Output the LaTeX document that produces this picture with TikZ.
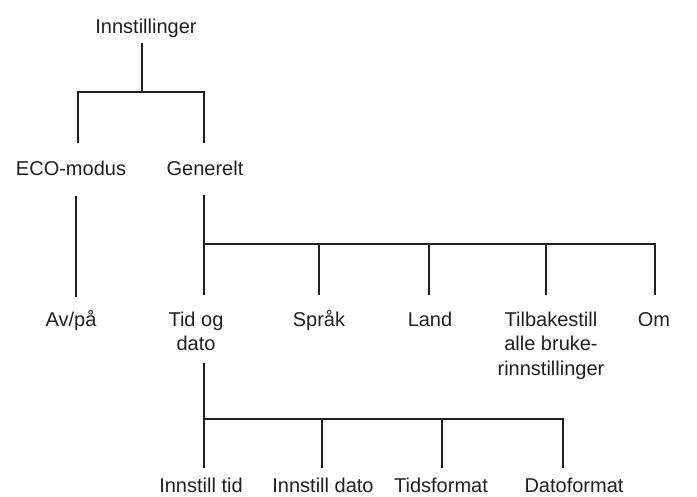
\documentclass[tikz,border=0pt]{standalone}
\usepackage{fontspec}
\setmainfont{Liberation Sans}
\definecolor{ink}{HTML}{231F20}
\begin{document}
\begin{tikzpicture}[x=1pt,y=-1pt,
  lbl/.style={inner sep=0pt,align=center,anchor=base,text=ink,font=\fontsize{20}{24.5}\selectfont},
  conn/.style={draw=ink,line width=2.7pt,line cap=butt,line join=miter}]
\useasboundingbox (0,0) rectangle (697,496);
% labels (anchor = baseline of the last line)
\node[lbl] (root) at (146,33) {Innstillinger};
\node[lbl] (eco) at (71,175) {ECO-modus};
\node[lbl] (gen) at (205,175) {Generelt};
\node[lbl] (av) at (71,326) {Av/på};
\node[lbl] (tid) at (196,350.5) {Tid og\\dato};
\node[lbl] (spr) at (319,326) {Språk};
\node[lbl] (land) at (430,326) {Land};
\node[lbl] (tilb) at (551,375) {Tilbakestill\\alle bruke-\\rinnstillinger};
\node[lbl] (om) at (654,326) {Om};
\node[lbl] (itid) at (201,492) {Innstill tid};
\node[lbl] (idat) at (323,492) {Innstill dato};
\node[lbl] (tfmt) at (441,492) {Tidsformat};
\node[lbl] (dfmt) at (574,492) {Datoformat};
% connector points
\coordinate (rootT) at (142,43);
\coordinate (rootB) at (142,92);
\coordinate (ecoUp) at (78,143);
\coordinate (genUp) at (204,143);
\coordinate (ecoT) at (76,196);
\coordinate (avUp) at (76,297);
\coordinate (genT) at (204,195);
\coordinate (genB) at (204,244);
\coordinate (tidUp) at (204,295);
\coordinate (sprUp) at (319,295);
\coordinate (landUp) at (429,295);
\coordinate (tilbUp) at (546,295);
\coordinate (omUp) at (655,295);
\coordinate (tidT) at (204,363);
\coordinate (tidB) at (204,419);
\coordinate (itidUp) at (204,468);
\coordinate (idatUp) at (322,468);
\coordinate (tfmtUp) at (442,468);
\coordinate (dfmtUp) at (563,468);
% connectors
\draw[conn] (rootT) -- (rootB);
\draw[conn] (ecoUp) |- (rootB) -| (genUp);
\draw[conn] (ecoT) -- (avUp);
\draw[conn] (genT) -- (genB) -- (tidUp);
\draw[conn] (genB) -| (omUp);
\draw[conn] (sprUp) -- (sprUp |- genB);
\draw[conn] (landUp) -- (landUp |- genB);
\draw[conn] (tilbUp) -- (tilbUp |- genB);
\draw[conn] (tidT) -- (tidB) -- (itidUp);
\draw[conn] (tidB) -| (dfmtUp);
\draw[conn] (idatUp) -- (idatUp |- tidB);
\draw[conn] (tfmtUp) -- (tfmtUp |- tidB);
\end{tikzpicture}
\end{document}
